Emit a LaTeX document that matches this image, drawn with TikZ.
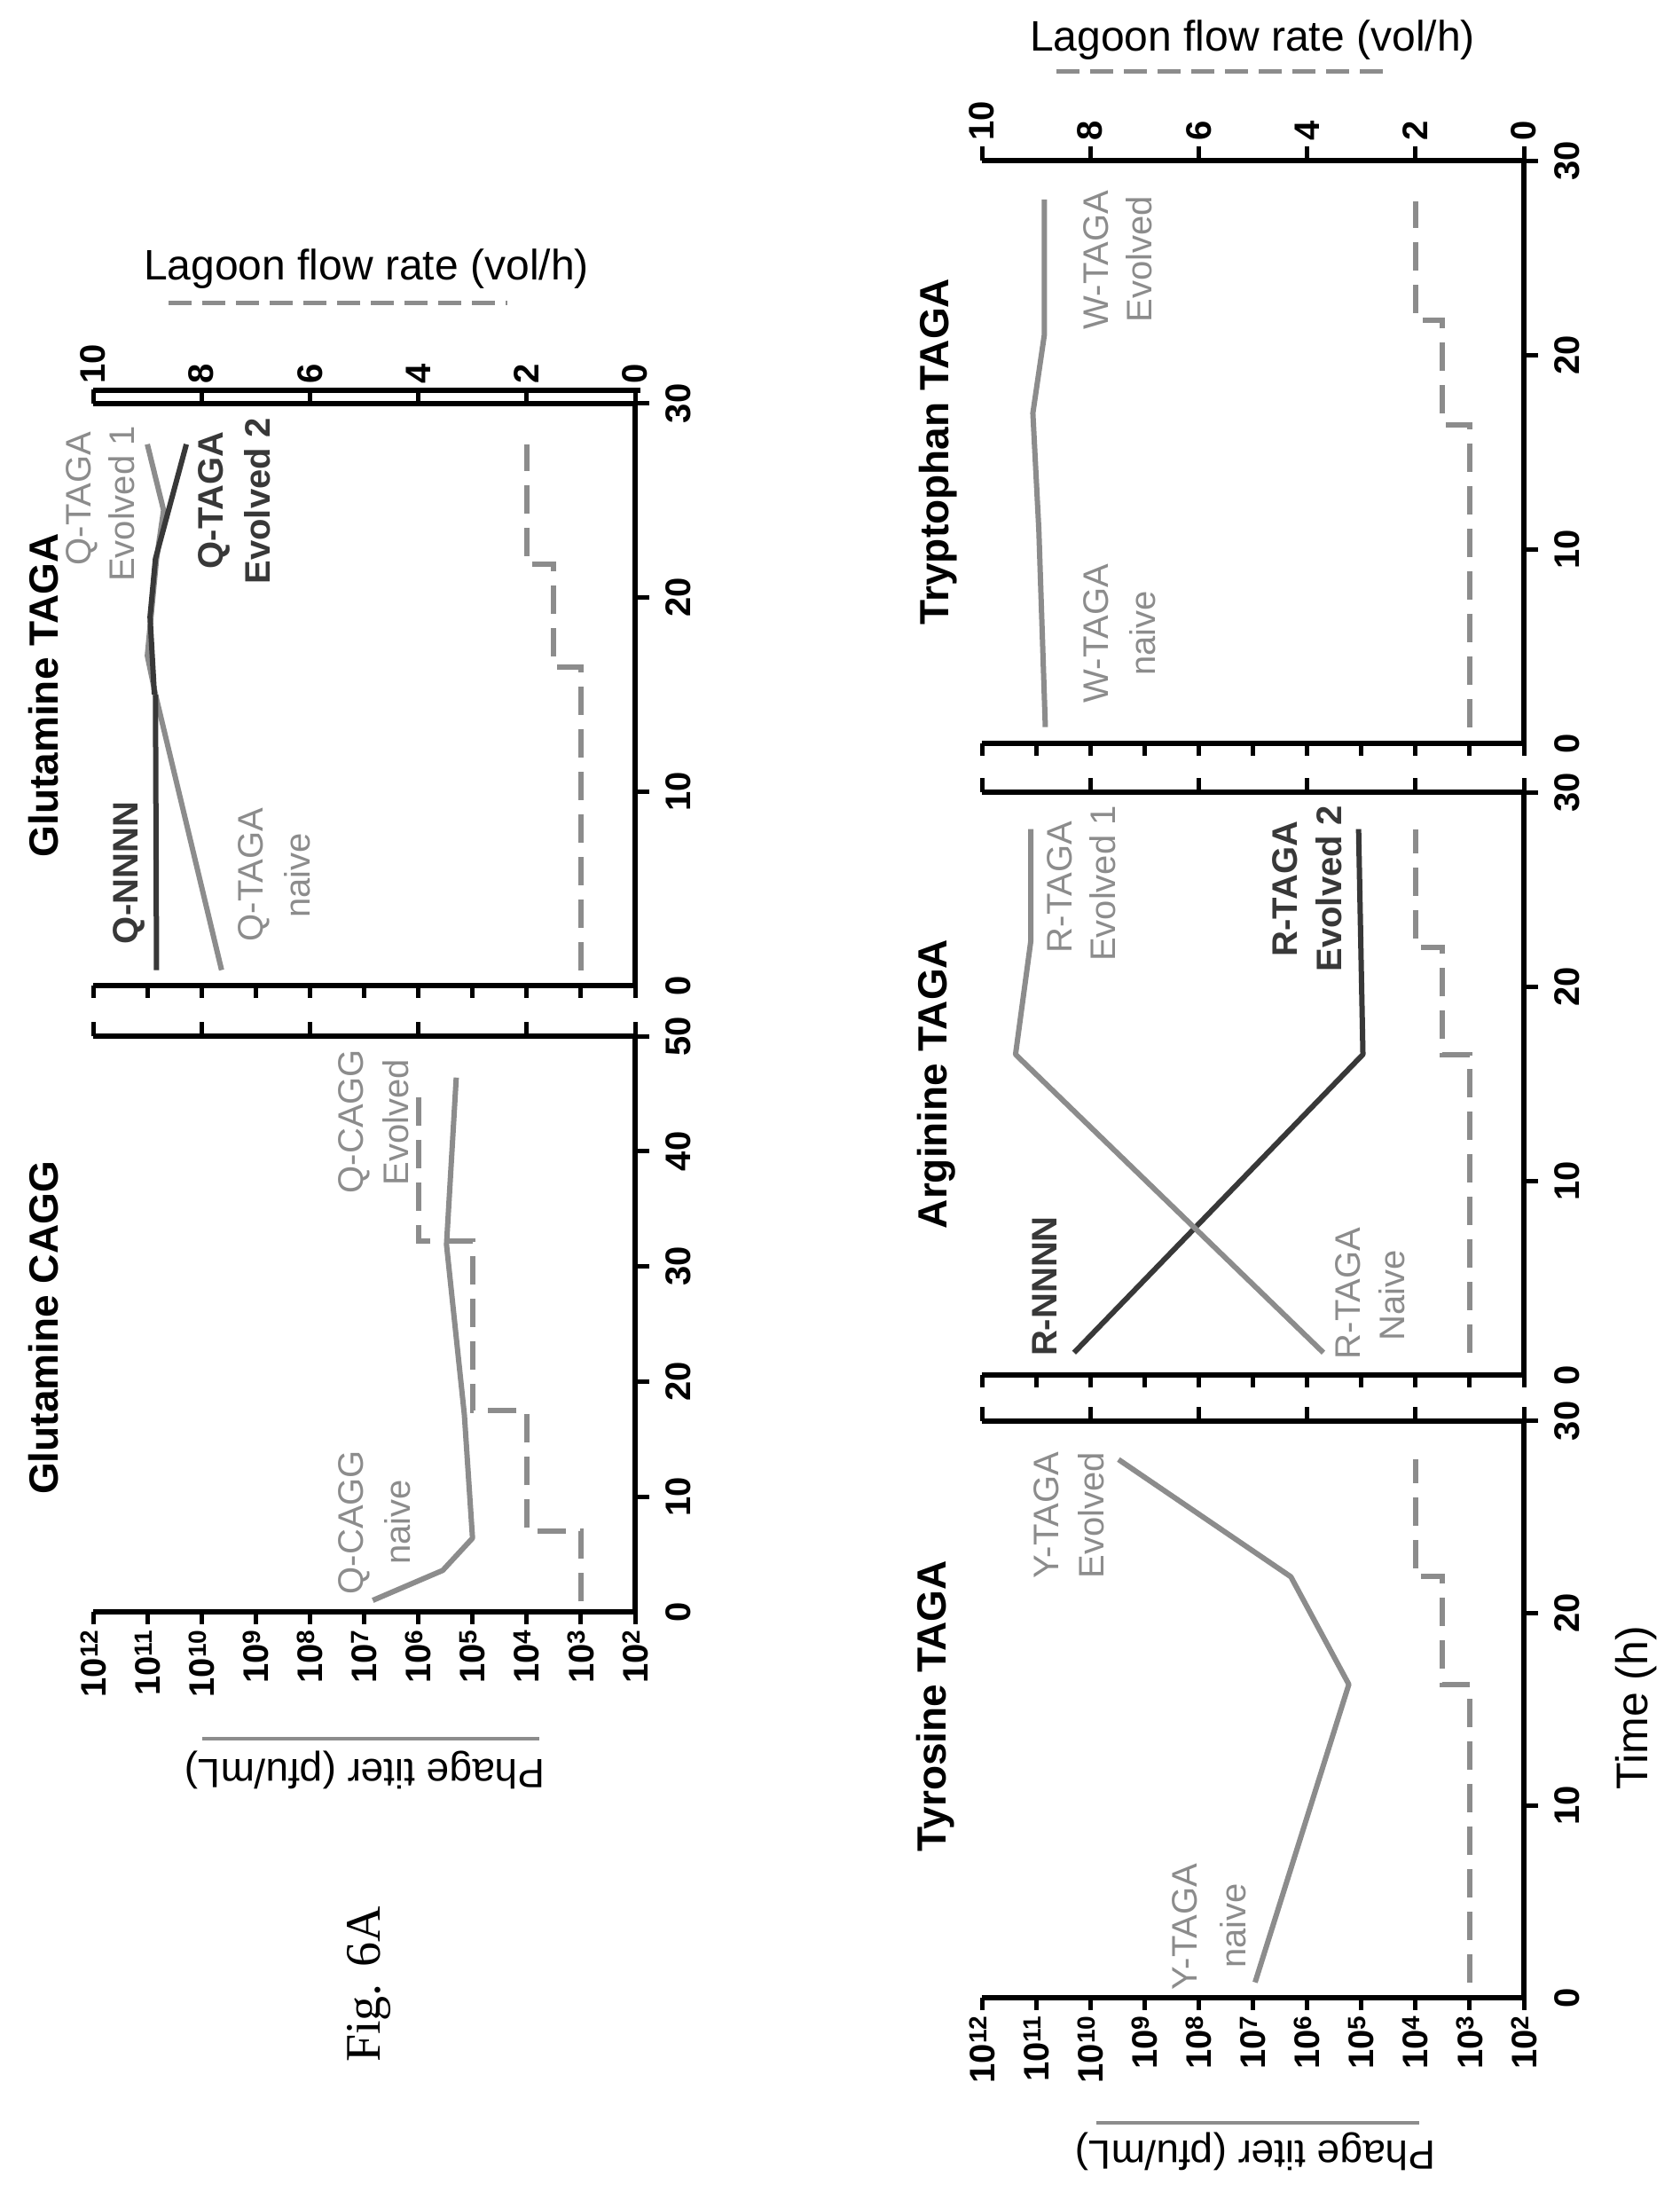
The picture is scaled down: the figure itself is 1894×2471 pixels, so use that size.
\documentclass[tikz,border=0pt]{standalone}
\usepackage{fontspec}
\setmainfont{Liberation Sans}
\newfontfamily\seriffont{Liberation Serif}
\begin{document}
\begin{tikzpicture}[x=1pt,y=-1pt,
  ax/.style={line width=6pt,black},
  tk/.style={line width=5pt,black},
  gcurve/.style={line width=6pt,color=black!45,line join=round},
  dcurve/.style={line width=6pt,color=black!78,line join=round},
  flow/.style={line width=6pt,color=black!45,dash pattern=on 32pt off 16pt},
  tl/.style={rotate=90,font=\fontsize{40}{44}\selectfont\bfseries,inner sep=0pt},
  glab/.style={rotate=90,font=\fontsize{40}{44}\selectfont,text=black!45,inner sep=0pt},
  dlab/.style={rotate=90,font=\fontsize{40}{44}\selectfont\bfseries,text=black!78,inner sep=0pt},
  ttl/.style={rotate=90,font=\fontsize{46}{50}\selectfont\bfseries,inner sep=0pt},
]
\useasboundingbox (0,0) rectangle (1894,2471);
\fill[white] (0,0) rectangle (1894,2471);

% generic axes macro: #1 = T (h), #2 = ticks list
\newcommand\myaxes[2]{%
  \draw[ax] (10,0) -- (0,0) -- (0,#1) -- (10,#1);
  \foreach \k in {0,...,10} \draw[tk] (\k,0) -- ++(0pt,-14pt);
  \foreach \k in {0,2,...,10} \draw[tk] (\k,#1) -- ++(0pt,16pt);
  \foreach \k in {#2} \draw[tk] (0,\k) -- ++(16pt,0pt);
  \foreach \k in {0,#2} \node[tl,anchor=north] at ([xshift=34pt]0,\k) {\k};
}
\newcommand\titerlabels{%
  \foreach \k [evaluate=\k as \e using int(\k+2)] in {0,...,10}
    \node[tl,anchor=east] at ([yshift=-20pt]\k,0) {10\textsuperscript{\e}};
}
\newcommand\lagoonlabels[1]{%
  \foreach \k in {0,2,...,10}
    \node[tl,anchor=west] at ([yshift=22pt]\k,#1) {\k};
}

% ===== A: Glutamine CAGG =====
\begin{scope}[shift={(716,1817)},x={(-61.1pt,0pt)},y={(0pt,12.98pt)}]
  \myaxes{50}{10,20,30,40,50}
  \titerlabels
  \draw[flow] (1,0.9) -- (1,7) -- (2,7) -- (2,17.5) -- (3,17.5) -- (3,32.2) -- (4,32.2) -- (4,45.5);
  \draw[gcurve] (4.84,1) -- (3.55,3.6) -- (3.0,6.4) -- (3.15,17.1) -- (3.48,31.9) -- (3.3,46.4);
\end{scope}

% ===== B: Glutamine TAGA =====
\draw[ax] (105,440) -- (722,440);
\begin{scope}[shift={(716,1111)},x={(-61.1pt,0pt)},y={(0pt,21.87pt)}]
  \myaxes{30}{10,20,30}
  \lagoonlabels{30}
  \draw[flow] (1,0.8) -- (1,16.4) -- (1.5,16.4) -- (1.5,21.7) -- (2,21.7) -- (2,27.9);
  \draw[gcurve] (7.63,0.8) -- (8.85,15);
  \draw[dcurve] (8.83,0.8) -- (8.85,15);
  \draw[gcurve] (8.85,15) -- (9.0,17) -- (8.83,22) -- (8.7,24.5) -- (9.0,27.9);
  \draw[dcurve] (8.87,15) -- (8.95,19) -- (8.85,22) -- (8.28,27.9);
\end{scope}

% ===== C: Tryptophan TAGA =====
\begin{scope}[shift={(1718,838)},x={(-61.1pt,0pt)},y={(0pt,21.9pt)}]
  \myaxes{30}{10,20,30}
  \lagoonlabels{30}
  \draw[flow] (1,0.84) -- (1,16.4) -- (1.5,16.4) -- (1.5,21.8) -- (2,21.8) -- (2,27.9);
  \draw[gcurve] (8.83,0.84) -- (8.95,11) -- (9.06,17) -- (8.85,21) -- (8.85,28);
\end{scope}

% ===== D: Arginine TAGA =====
\begin{scope}[shift={(1718,1550)},x={(-61.1pt,0pt)},y={(0pt,21.9pt)}]
  \myaxes{30}{10,20,30}
  \draw[flow] (1,1.15) -- (1,16.5) -- (1.5,16.5) -- (1.5,22) -- (2,22) -- (2,28.1);
  \draw[dcurve] (8.3,1.15) -- (2.97,16.5) -- (3.05,28.1);
  \draw[gcurve] (3.7,1.15) -- (9.38,16.5) -- (9.1,22.3) -- (9.1,28.1);
\end{scope}

% ===== E: Tyrosine TAGA =====
\begin{scope}[shift={(1718,2252)},x={(-61.1pt,0pt)},y={(0pt,21.67pt)}]
  \myaxes{30}{10,20,30}
  \titerlabels
  \draw[flow] (1,0.8) -- (1,16.3) -- (1.5,16.3) -- (1.5,21.9) -- (2,21.9) -- (2,28);
  \draw[gcurve] (4.96,0.8) -- (3.23,16.3) -- (4.3,21.9) -- (7.48,28);
\end{scope}

% ===== curve labels =====
\node[glab] (a1) at (399,1716) {Q-CAGG};
\node[glab] (a2) at (448,1716) {naive};
\node[glab] (a3) at (399,1264) {Q-CAGG};
\node[glab] (a4) at (446,1265) {Evolved};

\node[dlab] (b1) at (145,984) {Q-NNNN};
\node[glab] (b2) at (286,986) {Q-TAGA};
\node[glab] (b3) at (335,987) {naive};
\node[glab] (b4) at (92,562) {Q-TAGA};
\node[glab] (b5) at (137,568) {Evolved 1};
\node[dlab] (b6) at (241,564) {Q-TAGA};
\node[dlab] (b7) at (290,565) {Evolved 2};

\node[glab] (c1) at (1236,714) {W-TAGA};
\node[glab] (c2) at (1288,714) {naive};
\node[glab] (c3) at (1236,293) {W-TAGA};
\node[glab] (c4) at (1284,292) {Evolved};

\node[dlab] (d1) at (1178,1450) {R-NNNN};
\node[glab] (d2) at (1520,1458) {R-TAGA};
\node[glab] (d3) at (1569,1460) {Naive};
\node[glab] (d4) at (1195,1000) {R-TAGA};
\node[glab] (d5) at (1243,996) {Evolved 1};
\node[dlab] (d6) at (1449,1002) {R-TAGA};
\node[dlab] (d7) at (1498,1002) {Evolved 2};

\node[glab] (e1) at (1336,2172) {Y-TAGA};
\node[glab] (e2) at (1390,2171) {naive};
\node[glab] (e3) at (1180,1708) {Y-TAGA};
\node[glab] (e4) at (1230,1708) {Evolved};

% ===== titles =====
\node[ttl] (t1) at (49,1497) {Glutamine CAGG};
\node[ttl] (t2) at (49,784) {Glutamine TAGA};
\node[ttl] (t3) at (1058,509) {Tryptophan TAGA};
\node[ttl] (t4) at (1056,1222) {Arginine TAGA};
\node[ttl] (t5) at (1055,1923) {Tyrosine TAGA};

% ===== axis titles =====
\node[font=\fontsize{48}{52}\selectfont,inner sep=0pt] (lg1) at (413,303) {Lagoon flow rate (vol/h)};
\coordinate (lg1a) at (190,341); \coordinate (lg1b) at (572,341);
\draw[flow,line width=5pt,dash pattern=on 26pt off 12pt] (lg1a) -- (lg1b);
\node[font=\fontsize{48}{52}\selectfont,inner sep=0pt] (lg2) at (1412,45) {Lagoon flow rate (vol/h)};
\coordinate (lg2a) at (1191,80); \coordinate (lg2b) at (1567,80);
\draw[flow,line width=5pt,dash pattern=on 26pt off 12pt] (lg2a) -- (lg2b);

\node[rotate=180,font=\fontsize{46}{50}\selectfont,inner sep=0pt] (pt1) at (411,1995) {Phage titer (pfu/mL)};
\coordinate (pt1a) at (228,1960); \coordinate (pt1b) at (608,1960);
\draw[line width=4pt,black!45] (pt1a) -- (pt1b);
\node[rotate=180,font=\fontsize{46}{50}\selectfont,inner sep=0pt] (pt2) at (1415,2425) {Phage titer (pfu/mL)};
\coordinate (pt2a) at (1236,2393); \coordinate (pt2b) at (1600,2393);
\draw[line width=4pt,black!45] (pt2a) -- (pt2b);

\node[rotate=90,font=\fontsize{50}{54}\selectfont,inner sep=0pt] (time) at (1845,1925) {Time (h)};
\node[rotate=90,font=\seriffont\fontsize{56}{60}\selectfont,inner sep=0pt] (fig) at (416,2237) {Fig. 6A};
\end{tikzpicture}
\end{document}
